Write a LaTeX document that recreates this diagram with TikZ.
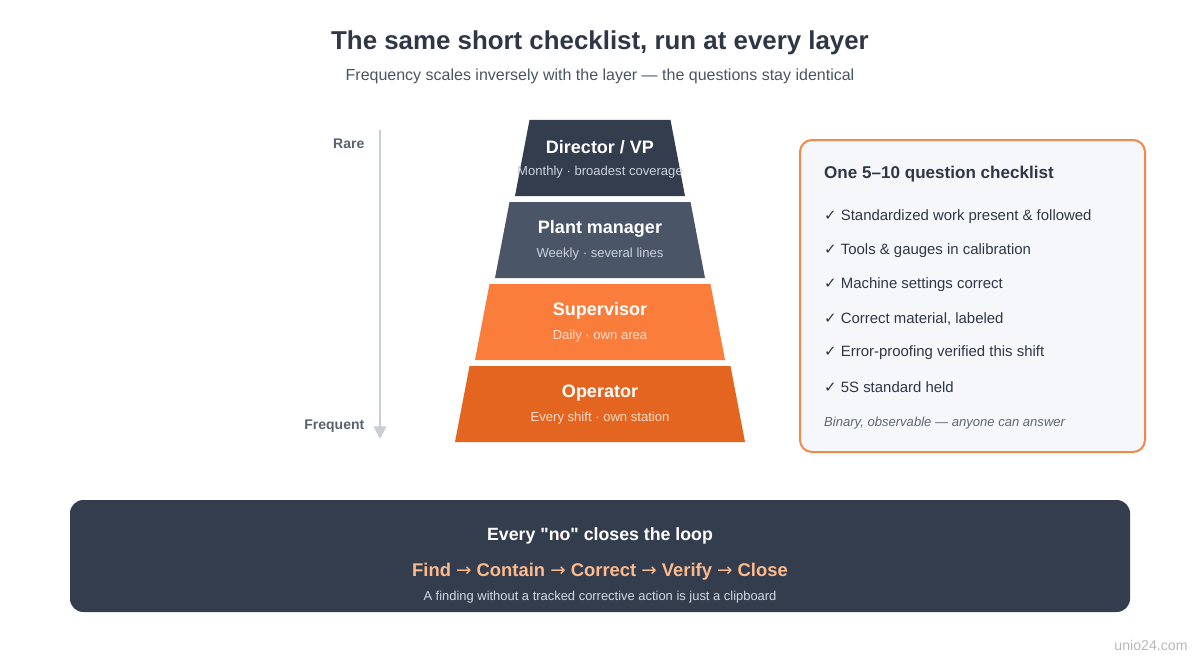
\documentclass[tikz,border=0pt]{standalone}
\usepackage{fontspec}
\setmainfont{Liberation Sans}
\newfontfamily\symfont{DejaVu Sans}
\newfontfamily\quotefont{Liberation Sans}[Ligatures=ResetAll]
\usetikzlibrary{arrows.meta}
\usetikzlibrary{positioning}

\definecolor{slate}{HTML}{343D4E}
\definecolor{slatelight}{HTML}{4A5568}
\definecolor{orangelight}{HTML}{FB7D3C}
\definecolor{orangedark}{HTML}{E4651F}
\definecolor{titlegray}{HTML}{2F3746}
\definecolor{subgray}{HTML}{4A5563}
\definecolor{axisgray}{HTML}{C9CED5}
\definecolor{labelgray}{HTML}{5A6270}
\definecolor{slatesub}{HTML}{CBD2DC}
\definecolor{orangesub}{HTML}{FDDCC8}
\definecolor{boxfill}{HTML}{F5F7FA}
\definecolor{boxedge}{HTML}{F0894A}
\definecolor{peach}{HTML}{FDBA8C}
\definecolor{footgray}{HTML}{5F6673}
\definecolor{bandsub}{HTML}{D3D9E2}

\newcommand{\stepsep}{ {\symfont\mdseries →} }

\tikzset{
  layertitle/.style={text=white, font=\bfseries\fontsize{13.5}{16}\selectfont},
  layersub/.style={font=\fontsize{9.8}{12}\selectfont},
  axislabel/.style={anchor=east, text=labelgray, font=\bfseries\fontsize{10.5}{12}\selectfont},
  checkitem/.style={anchor=west, text=titlegray, font=\fontsize{11.2}{13}\selectfont},
}

\begin{document}
\begin{tikzpicture}[x=0.75pt,y=-0.75pt]
    \useasboundingbox (0,0) rectangle (1200,660);
    \fill[white] (0,0) rectangle (1200,660);

    % heading
    \node[text=titlegray, font=\bfseries\fontsize{19.4}{23}\selectfont] (title) at (600,43) {The same short checklist, run at every layer};
    \node[text=subgray, font=\fontsize{12}{14}\selectfont] (subtitle) at (600,76) {Frequency scales inversely with the layer --- the questions stay identical};

    % frequency axis
    \coordinate (axtop) at (380,130);
    \coordinate (axbot) at (380,439);
    \draw[axisgray, line width=1.5, -{Triangle[length=9.5pt,width=9.5pt]}] (axtop) -- (axbot);
    \node[axislabel] (rare) at (369,144) {Rare};
    \node[axislabel] (frequent) at (369,426) {Frequent};

    % pyramid
    \fill[slate] (529.5,120) -- (670.5,120) -- (685,196) -- (515,196) -- cycle;
    \fill[slatelight] (509.5,202) -- (690.5,202) -- (705,278) -- (495,278) -- cycle;
    \fill[orangelight] (489.5,284) -- (710.5,284) -- (725,360) -- (475,360) -- cycle;
    \fill[orangedark] (469.5,366) -- (730.5,366) -- (745,442) -- (455,442) -- cycle;

    \node[layertitle] (director) at (600,147) {Director / VP};
    \node[layersub, text=slatesub] (directorsub) at (600,172) {Monthly · broadest coverage};
    \node[layertitle] (plant) at (600,229) {Plant manager};
    \node[layersub, text=slatesub] (plantsub) at (600,254) {Weekly · several lines};
    \node[layertitle] (supervisor) at (600,311) {Supervisor};
    \node[layersub, text=orangesub] (supervisorsub) at (600,336) {Daily · own area};
    \node[layertitle] (operator) at (600,393) {Operator};
    \node[layersub, text=orangesub] (operatorsub) at (600,418) {Every shift · own station};

    % checklist card
    \draw[boxedge, fill=boxfill, line width=1.5, rounded corners=9] (800,140) rectangle (1145,452);
    \node[anchor=west, text=titlegray, font=\bfseries\fontsize{12.8}{15}\selectfont] (checktitle) at (819.5,174) {One 5--10 question checklist};
    \node[checkitem] (item1) at (819.5,217) {{\symfont ✓} Standardized work present \& followed};
    \node[checkitem] (item2) at (819.5,251) {{\symfont ✓} Tools \& gauges in calibration};
    \node[checkitem] (item3) at (819.5,285) {{\symfont ✓} Machine settings correct};
    \node[checkitem] (item4) at (819.5,319) {{\symfont ✓} Correct material, labeled};
    \node[checkitem] (item5) at (819.5,353) {{\symfont ✓} Error-proofing verified this shift};
    \node[checkitem] (item6) at (819.5,387) {{\symfont ✓} 5S standard held};
    \node[anchor=west, text=footgray, font=\itshape\fontsize{9.8}{12}\selectfont] (checkfoot) at (819.5,423) {Binary, observable --- anyone can answer};

    % closing band
    \fill[slate, rounded corners=10] (70,500) rectangle (1130,612);
    \node[text=white, font=\bfseries\fontsize{13.3}{16}\selectfont] (looptitle) at (600,536) {Every {\quotefont "no"} closes the loop};
    \node[text=peach, font=\bfseries\fontsize{13.8}{16}\selectfont] (loopsteps) at (600,572) {Find\stepsep Contain\stepsep Correct\stepsep Verify\stepsep Close};
    \node[text=bandsub, font=\fontsize{9.7}{12}\selectfont] (loopnote) at (600,597) {A finding without a tracked corrective action is just a clipboard};

    \node[text=black!28, font=\fontsize{10.6}{13}\selectfont] (watermark) at (1151,645) {unio24.com};
\end{tikzpicture}
\end{document}
